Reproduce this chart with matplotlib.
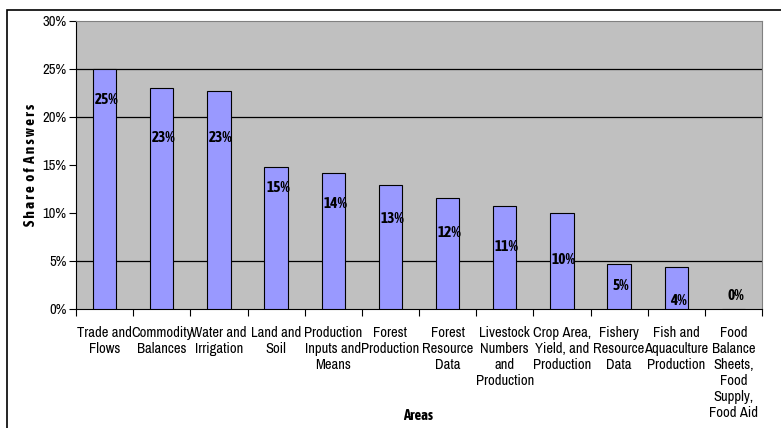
import matplotlib
matplotlib.use("Agg")
import matplotlib.pyplot as plt
from matplotlib.patches import Rectangle

# data
areas = ["Trade and\nFlows", "Commodity\nBalances", "Water and\nIrrigation", "Land and\nSoil",
         "Production\nInputs and\nMeans", "Forest\nProduction", "Forest\nResource\nData",
         "Livestock\nNumbers\nand\nProduction", "Crop Area,\nYield, and\nProduction",
         "Fishery\nResource\nData", "Fish and\nAquaculture\nProduction",
         "Food\nBalance\nSheets,\nFood\nSupply,\nFood Aid"]
share = [25.0, 23.0, 22.7, 14.8, 14.2, 12.9, 11.6, 10.7, 10.0, 4.7, 4.4, 0.0]
share_labels = ["25%", "23%", "23%", "15%", "14%", "13%", "12%", "11%", "10%", "5%", "4%", "0%"]
y_ticks = [0, 5, 10, 15, 20, 25, 30]

plt.rcParams['font.family'] = ['Archivo Narrow', 'Liberation Sans', 'DejaVu Sans']
BOLD = ['Asap Condensed', 'Liberation Sans', 'DejaVu Sans']

fig = plt.figure(figsize=(7.81, 4.28), dpi=100)
# outer chart frame
fig.patches.append(Rectangle((7/781, -0.1), 1.0, 1 - 10/428 + 0.1, transform=fig.transFigure,
                             fill=False, edgecolor="black", linewidth=1.2))
ax = fig.add_axes([76/781, 1 - 309/428, 686/781, 288/428])
ax.set_facecolor("#C0C0C0")

x = list(range(len(areas)))
ax.bar(x, share, width=0.41, color="#9999FF", edgecolor="black", linewidth=0.8, zorder=3)

# only some gridlines show in the original
for g in [5, 20, 25]:
    ax.axhline(g, color="black", linewidth=0.9, zorder=1)

# value labels inside the bars, a bit below the top
label_dy = [-31, -50, -47, -21, -31, -34, -35, -41, -47, -22, -34, 13]
for i, (v, t) in enumerate(zip(share, share_labels)):
    ax.annotate(t, (i, v), xytext=(2, label_dy[i]), textcoords="offset pixels",
                ha="center", va="center", fontsize=11, fontweight="bold", family=BOLD, zorder=4)

ax.set_xlim(-0.5, len(areas) - 0.5)
ax.set_ylim(0, 30)
ax.set_yticks(y_ticks)
ax.set_yticklabels([f"{t}%" for t in y_ticks], fontsize=10.5)
ax.set_xticks([i - 0.5 for i in range(len(areas) + 1)])
ax.set_xticklabels([])
ax.set_xticks(x, minor=True)
ax.set_xticklabels(areas, minor=True, fontsize=10.5, linespacing=1.18, va="top")
ax.tick_params(axis="x", which="minor", length=0, pad=12)
ax.tick_params(axis="x", which="major", length=5, direction="out")
ax.tick_params(axis="y", length=5, direction="out", pad=2)

for s in ["top", "right"]:
    ax.spines[s].set_color("#808080")
for s in ["left", "bottom"]:
    ax.spines[s].set_color("black")

ax.set_ylabel("S h a r e  o f  A n s w e r s", fontsize=11, fontweight="bold", family=BOLD, labelpad=3)
fig.text(418/781, 1 - 416/428, "Areas", ha="center", va="center", fontsize=10.5,
         fontweight="bold", family=BOLD)

fig.savefig("out.png", dpi=100)
